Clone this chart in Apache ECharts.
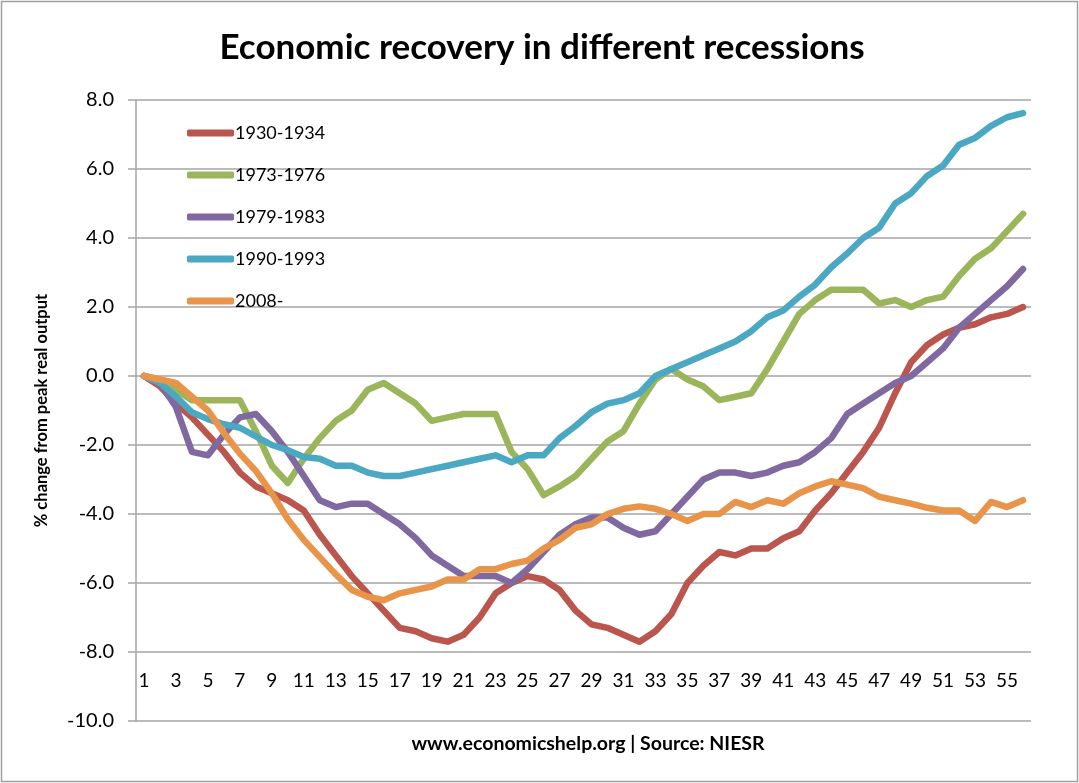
<!DOCTYPE html>
<html>
<head>
<meta charset="utf-8">
<script src="https://cdn.jsdelivr.net/npm/echarts@6/dist/echarts.min.js"></script>
<style>
  html, body { margin: 0; padding: 0; background: #fff; }
  #chart { width: 1079px; height: 783px; }
</style>
</head>
<body>
<div id="chart"></div>
<script>
// periods since pre-recession peak (1..56)
const periods = Array.from({ length: 56 }, (_, i) => String(i + 1));

const seriesNames = ['1930-1934', '1973-1976', '1979-1983', '1990-1993', '2008-'];
const seriesColors = ['#BA564E', '#9BB55B', '#8068A0', '#4BA8C2', '#E8954A'];

// % change from peak real output
const r1930 = [0, -0.3, -0.8, -1.2, -1.7, -2.2, -2.8, -3.2, -3.4, -3.6, -3.9, -4.6, -5.2, -5.8, -6.3, -6.8,
  -7.3, -7.4, -7.6, -7.7, -7.5, -7.0, -6.3, -6.0, -5.8, -5.9, -6.2, -6.8, -7.2, -7.3, -7.5, -7.7,
  -7.4, -6.9, -6.0, -5.5, -5.1, -5.2, -5.0, -5.0, -4.7, -4.5, -3.9, -3.4, -2.8, -2.2, -1.5, -0.5,
  0.4, 0.9, 1.2, 1.4, 1.5, 1.7, 1.8, 2.0];
const r1973 = [0, -0.1, -0.4, -0.7, -0.7, -0.7, -0.7, -1.6, -2.6, -3.1, -2.4, -1.8, -1.3, -1.0, -0.4, -0.2,
  -0.5, -0.8, -1.3, -1.2, -1.1, -1.1, -1.1, -2.2, -2.7, -3.45, -3.2, -2.9, -2.4, -1.9, -1.6, -0.8,
  -0.1, 0.2, -0.1, -0.3, -0.7, -0.6, -0.5, 0.2, 1.0, 1.8, 2.2, 2.5, 2.5, 2.5, 2.1, 2.2,
  2.0, 2.2, 2.3, 2.9, 3.4, 3.7, 4.2, 4.7];
const r1979 = [0, -0.2, -0.9, -2.2, -2.3, -1.7, -1.2, -1.1, -1.6, -2.2, -2.9, -3.6, -3.8, -3.7, -3.7, -4.0,
  -4.3, -4.7, -5.2, -5.5, -5.8, -5.8, -5.8, -6.0, -5.6, -5.1, -4.6, -4.3, -4.1, -4.1, -4.4, -4.6,
  -4.5, -4.0, -3.5, -3.0, -2.8, -2.8, -2.9, -2.8, -2.6, -2.5, -2.2, -1.8, -1.1, -0.8, -0.5, -0.2,
  0.0, 0.4, 0.8, 1.4, 1.8, 2.2, 2.6, 3.1];
const r1990 = [0, -0.2, -0.6, -1.05, -1.25, -1.4, -1.5, -1.75, -2.0, -2.15, -2.35, -2.4, -2.6, -2.6, -2.8, -2.9,
  -2.9, -2.8, -2.7, -2.6, -2.5, -2.4, -2.3, -2.5, -2.3, -2.3, -1.8, -1.45, -1.05, -0.8, -0.7, -0.5,
  0.0, 0.2, 0.4, 0.6, 0.8, 1.0, 1.3, 1.7, 1.9, 2.3, 2.65, 3.15, 3.55, 4.0, 4.3, 5.0,
  5.3, 5.8, 6.1, 6.7, 6.9, 7.25, 7.5, 7.62];
const r2008 = [0, -0.1, -0.2, -0.6, -1.0, -1.65, -2.25, -2.75, -3.4, -4.15, -4.75, -5.25, -5.75, -6.2, -6.4, -6.5,
  -6.3, -6.2, -6.1, -5.9, -5.9, -5.6, -5.6, -5.45, -5.35, -5.0, -4.75, -4.4, -4.3, -4.0, -3.85, -3.78,
  -3.85, -4.0, -4.2, -4.0, -4.0, -3.65, -3.8, -3.6, -3.7, -3.4, -3.2, -3.05, -3.15, -3.25, -3.5, -3.6,
  -3.7, -3.82, -3.9, -3.9, -4.2, -3.65, -3.8, -3.6];

const allSeries = [r1930, r1973, r1979, r1990, r2008];

const FONT = 'Lato, "Open Sans", sans-serif';
const GRID_COLOR = '#A5A5A5';

const chart = echarts.init(document.getElementById('chart'));

chart.setOption({
    animation: false,
    backgroundColor: '#fff',
    textStyle: { fontFamily: FONT, color: '#000' },
    title: [
        {
            text: 'Economic recovery in different recessions',
            left: 537, top: 25, textAlign: 'center',
            textStyle: { fontFamily: FONT, fontSize: 35, fontWeight: 'bold', color: '#000' }
        },
        {
            text: 'www.economicshelp.org | Source: NIESR',
            left: 583, top: 729, textAlign: 'center',
            textStyle: { fontFamily: FONT, fontSize: 19.5, fontWeight: 'bold', color: '#000' }
        }
    ],
    legend: {
        orient: 'vertical',
        left: 187, top: 123,
        padding: 0,
        icon: 'roundRect',
        itemWidth: 47, itemHeight: 7,
        itemGap: 22,
        data: seriesNames,
        textStyle: { fontFamily: FONT, fontSize: 18, color: '#000', lineHeight: 20, padding: [0, 0, 0, -4] }
    },
    grid: { left: 136, right: 48, top: 100, bottom: 62 },
    xAxis: {
        type: 'category',
        data: periods,
        boundaryGap: true,
        offset: -69,
        axisLine: { show: false },
        axisTick: { show: false },
        axisLabel: { interval: 1, margin: 19, fontSize: 19, fontFamily: FONT, color: '#000' },
        splitLine: { show: false }
    },
    yAxis: {
        type: 'value',
        min: -10, max: 8, interval: 2,
        name: '% change from peak real output',
        nameLocation: 'middle',
        nameGap: 86,
        nameTextStyle: { fontFamily: FONT, fontSize: 16.5, fontWeight: 'bold', color: '#000' },
        axisLine: { show: true, lineStyle: { color: GRID_COLOR, width: 1.5 } },
        axisTick: { show: true, inside: false, length: 8, lineStyle: { color: GRID_COLOR, width: 1.5 } },
        axisLabel: {
            margin: 22, fontSize: 20, fontFamily: FONT, color: '#000',
            formatter: v => v.toFixed(1)
        },
        splitLine: { show: true, lineStyle: { color: GRID_COLOR, width: 1.5 } }
    },
    series: allSeries.map((vals, i) => ({
        name: seriesNames[i],
        type: 'line',
        data: vals,
        symbol: 'none',
        smooth: false,
        itemStyle: { color: seriesColors[i] },
        lineStyle: { color: seriesColors[i], width: 6.5, cap: 'round', join: 'round' },
        z: 2 + i
    })),
    graphic: [{
        type: 'rect',
        shape: { x: 1.5, y: 1.5, width: 1076, height: 780 },
        style: { fill: null, stroke: '#A0A0A0', lineWidth: 1.5 },
        silent: true
    }]
});
</script>
</body>
</html>
